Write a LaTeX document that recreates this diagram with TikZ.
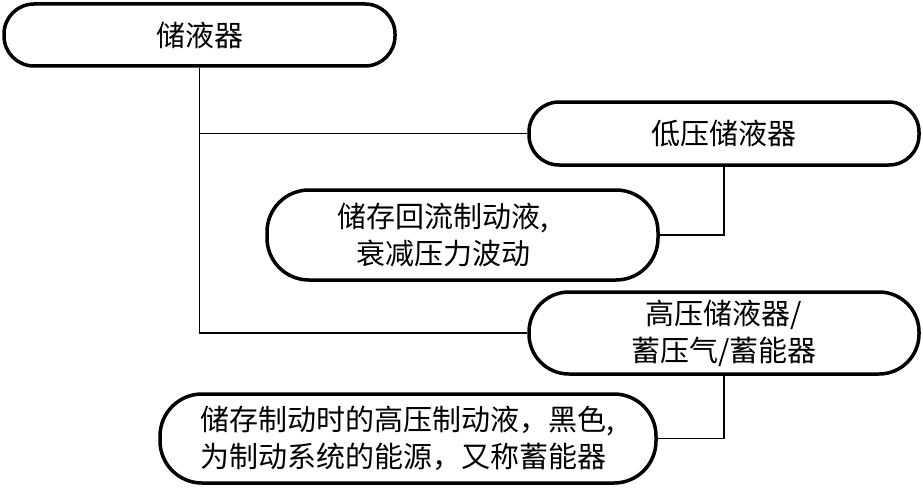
\documentclass[tikz,border=0pt]{standalone}
\usepackage{fontspec}
\newfontfamily\cjk{Noto Sans CJK SC}
\begin{document}
\begin{tikzpicture}[x=1pt,y=-1pt,
  box/.style={draw, line width=3.5pt, rounded corners=#1, inner sep=0pt,
    font=\cjk\fontsize{29}{37}\selectfont, align=center},
  txt/.style={inner sep=0pt, font=\cjk\fontsize{29}{37}\selectfont, align=center},
  conn/.style={line width=1.5pt}]
\useasboundingbox (0,0) rectangle (923,487);
\node[box=30pt, minimum width=391pt, minimum height=62pt] (a) at (199.5,35) {储液器};
\node[box=30pt, minimum width=390pt, minimum height=63pt] (b) at (724,133.5) {低压储液器};
\node[box=42pt, minimum width=391pt, minimum height=90pt] (c) at (462.5,235) {};
\node[txt] (ct) at (443,235) {储存回流制动液,\\衰减压力波动};
\node[box=40pt, minimum width=390pt, minimum height=82pt] (d) at (724,333) {高压储液器/\\蓄压气/蓄能器};
\node[box=42pt, minimum width=496pt, minimum height=89pt, align=left] (e) at (408,438.5) {储存制动时的高压制动液，黑色,\\为制动系统的能源，又称蓄能器};
\draw[conn] (a.south) |- (d.west);
\draw[conn] (a.south |- b.west) -- (b.west);
\draw[conn] (b.south) |- (c.east);
\draw[conn] (d.south) |- (e.east);
\end{tikzpicture}
\end{document}
